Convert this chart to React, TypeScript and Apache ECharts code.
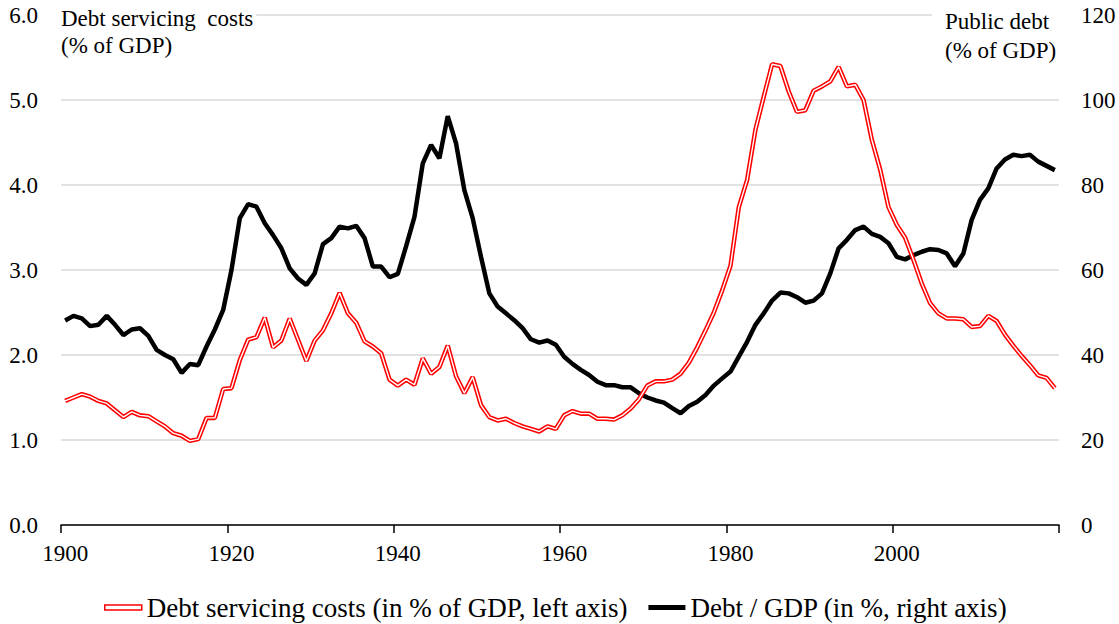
import React, { useEffect, useRef } from "react";
import * as echarts from "echarts";

const FONT = '"Liberation Serif", "Times New Roman", serif';

const START_YEAR = 1900;
const N_YEARS = 120;
const years: string[] = Array.from({ length: N_YEARS }, (_, i) => String(START_YEAR + i));

const leftTicks = { min: 0, max: 6, interval: 1 };
const rightTicks = { min: 0, max: 120, interval: 20 };

const debtServiceName = "Debt servicing costs (in % of GDP, left axis)";
const debtGdpName = "Debt / GDP (in %, right axis)";

// Debt servicing costs, % of GDP, 1900–2019
const debtService: number[] = [
  1.46, 1.5, 1.54, 1.51, 1.46, 1.43, 1.35, 1.27, 1.33, 1.29,
  1.28, 1.22, 1.16, 1.08, 1.05, 0.99, 1.01, 1.26, 1.26, 1.6,
  1.61, 1.94, 2.18, 2.21, 2.44, 2.09, 2.17, 2.43, 2.18, 1.93,
  2.17, 2.29, 2.49, 2.73, 2.49, 2.38, 2.16, 2.1, 2.02, 1.71,
  1.64, 1.71, 1.65, 1.96, 1.78, 1.86, 2.11, 1.75, 1.55, 1.74,
  1.41, 1.27, 1.23, 1.25, 1.2, 1.16, 1.13, 1.1, 1.16, 1.13,
  1.29, 1.34, 1.31, 1.31, 1.25, 1.25, 1.24, 1.29, 1.37, 1.48,
  1.64, 1.69, 1.69, 1.71, 1.78, 1.91, 2.09, 2.29, 2.5, 2.76,
  3.05, 3.74, 4.06, 4.65, 5.04, 5.42, 5.4, 5.1, 4.86, 4.88,
  5.11, 5.16, 5.22, 5.39, 5.16, 5.18, 5.0, 4.53, 4.18, 3.74,
  3.53, 3.38, 3.12, 2.84, 2.61, 2.49, 2.43, 2.43, 2.42, 2.33,
  2.34, 2.46, 2.4, 2.24, 2.11, 1.99, 1.88, 1.76, 1.73, 1.61,
];

// Public debt, % of GDP, 1900–2019
const debtGdp: number[] = [
  48.1, 49.2, 48.6, 46.8, 47.1, 49.2, 47.1, 44.7, 46.0, 46.3,
  44.5, 41.2, 40.0, 39.0, 35.8, 37.9, 37.6, 42.0, 46.0, 50.6,
  60.0, 72.2, 75.5, 74.9, 71.0, 68.2, 65.1, 60.4, 58.0, 56.5,
  59.2, 66.1, 67.5, 70.2, 69.8, 70.4, 67.5, 60.8, 60.8, 58.3,
  59.1, 65.6, 72.5, 85.1, 89.4, 86.3, 96.2, 89.8, 78.8, 72.2,
  63.1, 54.5, 51.4, 49.8, 48.2, 46.3, 43.7, 42.9, 43.4, 42.4,
  39.6, 37.9, 36.5, 35.3, 33.7, 32.9, 32.9, 32.4, 32.4, 31.0,
  30.0, 29.3, 28.8, 27.5, 26.3, 28.0, 29.0, 30.6, 32.8, 34.5,
  36.1, 39.6, 43.1, 47.1, 49.8, 52.8, 54.7, 54.5, 53.6, 52.3,
  52.8, 54.5, 59.2, 65.1, 67.1, 69.4, 70.2, 68.5, 67.8, 66.3,
  63.1, 62.5, 63.5, 64.3, 64.9, 64.7, 63.9, 60.9, 63.9, 71.8,
  76.5, 79.2, 83.9, 86.0, 87.1, 86.8, 87.1, 85.5, 84.5, 83.5,
];

export default function App() {
  const ref = useRef<HTMLDivElement>(null);

  useEffect(() => {
    document.body.style.margin = "0";
    if (!ref.current) return;
    const chart = echarts.init(ref.current, undefined, { renderer: "svg" });
    const txt = { fontFamily: FONT, color: "#000" };
    chart.setOption({
      animation: false,
      backgroundColor: "#fff",
      grid: { left: 61, right: 60, top: 15, bottom: 99, containLabel: false },
      title: [
        {
          text: "Debt servicing  costs\n(% of GDP)",
          left: 61,
          top: 5,
          padding: [0, 3, 0, 0],
          backgroundColor: "#fff",
          textStyle: { ...txt, fontSize: 23, fontWeight: "normal", lineHeight: 27 },
          z: 10,
        },
        {
          text: "Public debt\n(% of GDP)",
          left: 932,
          top: 7,
          padding: [0, 10, 0, 13],
          backgroundColor: "#fff",
          textStyle: { ...txt, fontSize: 23, fontWeight: "normal", lineHeight: 29 },
          z: 10,
        },
      ],
      legend: {
        left: 104,
        top: 594,
        padding: 0,
        itemGap: 21,
        itemWidth: 37,
        itemHeight: 5,
        textStyle: { ...txt, fontSize: 27 },
        data: [
          {
            name: debtServiceName,
            icon: "rect",
            itemStyle: { color: "#fff", borderColor: "#ff0000", borderWidth: 1.5 },
          },
          { name: debtGdpName, icon: "rect", itemStyle: { color: "#000", borderWidth: 0 } },
        ],
      },
      xAxis: {
        type: "category",
        data: years,
        boundaryGap: true,
        axisLine: { show: true, lineStyle: { color: "#000", width: 1.5 } },
        axisTick: { show: true, interval: 19, length: 8, lineStyle: { color: "#000", width: 1.5 } },
        axisLabel: { ...txt, interval: 19, fontSize: 23, margin: 17 },
        splitLine: { show: false },
      },
      yAxis: [
        {
          type: "value",
          ...leftTicks,
          position: "left",
          axisLine: { show: false },
          axisTick: { show: false },
          axisLabel: { ...txt, fontSize: 23, margin: 23, formatter: (v: number) => v.toFixed(1) },
          splitLine: { show: true, lineStyle: { color: "#d9d9d9", width: 1.5 } },
        },
        {
          type: "value",
          ...rightTicks,
          position: "right",
          axisLine: { show: false },
          axisTick: { show: false },
          axisLabel: { ...txt, fontSize: 23, margin: 22 },
          splitLine: { show: false },
        },
      ],
      series: [
        {
          name: debtGdpName,
          type: "line",
          yAxisIndex: 1,
          data: debtGdp,
          showSymbol: false,
          symbol: "none",
          lineStyle: { color: "#000", width: 4.5 },
          itemStyle: { color: "#000" },
          z: 2,
        },
        {
          name: debtServiceName,
          type: "line",
          yAxisIndex: 0,
          data: debtService,
          showSymbol: false,
          symbol: "none",
          lineStyle: { color: "#ff0000", width: 4.5 },
          itemStyle: { color: "#ff0000" },
          z: 3,
        },
        {
          name: "inner",
          type: "line",
          yAxisIndex: 0,
          data: debtService,
          showSymbol: false,
          symbol: "none",
          lineStyle: { color: "#fff", width: 1.4 },
          itemStyle: { color: "#fff" },
          z: 4,
          silent: true,
        },
      ],
    });
    return () => chart.dispose();
  }, []);

  return (
    <div
      ref={ref}
      style={{ position: "absolute", left: 0, top: 0, width: 1119, height: 624 }}
    />
  );
}
